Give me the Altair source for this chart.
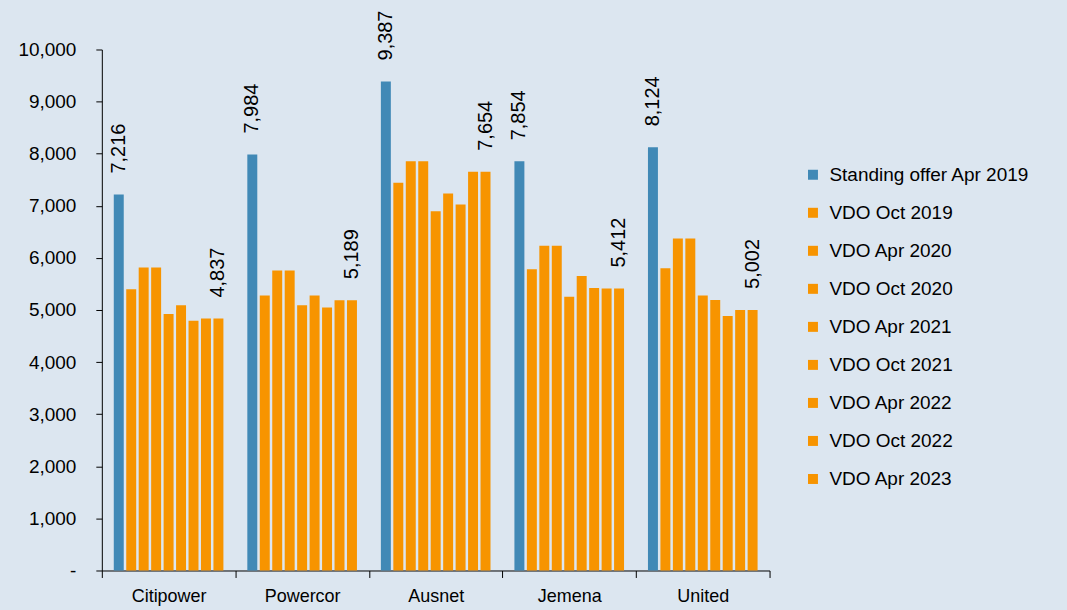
import altair as alt
import pandas as pd

groups = ["Citipower", "Powercor", "Ausnet", "Jemena", "United"]
series = ["Standing offer Apr 2019", "VDO Oct 2019", "VDO Apr 2020", "VDO Oct 2020",
          "VDO Apr 2021", "VDO Oct 2021", "VDO Apr 2022", "VDO Oct 2022", "VDO Apr 2023"]

standing_apr_2019 = [7216, 7984, 9387, 7854, 8124]
vdo_oct_2019 = [5400, 5280, 7440, 5780, 5800]
vdo_apr_2020 = [5818, 5760, 7854, 6232, 6373]
vdo_oct_2020 = [5818, 5760, 7854, 6232, 6373]
vdo_apr_2021 = [4923, 5090, 6897, 5255, 5280]
vdo_oct_2021 = [5090, 5280, 7235, 5651, 5190]
vdo_apr_2022 = [4795, 5050, 7025, 5421, 4885]
vdo_oct_2022 = [4837, 5189, 7654, 5412, 5002]
vdo_apr_2023 = [4837, 5189, 7654, 5412, 5002]

values = [standing_apr_2019, vdo_oct_2019, vdo_apr_2020, vdo_oct_2020, vdo_apr_2021,
          vdo_oct_2021, vdo_apr_2022, vdo_oct_2022, vdo_apr_2023]

labelled = {series[0], series[-1]}
rows = []
for s, vals in zip(series, values):
    for g, v in zip(groups, vals):
        rows.append({"group": g, "series": s, "value": v,
                     "label": f"{v:,}" if s in labelled else ""})
df = pd.DataFrame(rows)

BLUE = "#4189b6"
ORANGE = "#f79400"
BG = "#dce6f0"
FONT = "Liberation Sans"

base = alt.Chart(df).encode(
    x=alt.X("group:N", sort=groups, title=None,
            scale=alt.Scale(paddingInner=0, paddingOuter=0),
            axis=alt.Axis(labelAngle=0, tickBand="extent", tickSize=7, labelPadding=10,
                          labelFontSize=18, grid=False, domainColor="#000",
                          tickColor="#000", labelColor="#000", labelFont=FONT)),
    xOffset=alt.XOffset("series:N", sort=series,
                        scale=alt.Scale(domain=series, paddingInner=0.2, paddingOuter=0.96)),
    y=alt.Y("value:Q", title=None,
            scale=alt.Scale(domain=[0, 10000], nice=False),
            axis=alt.Axis(values=list(range(0, 10001, 1000)),
                          labelExpr="datum.value === 0 ? '-' : format(datum.value, ',')",
                          tickSize=6, labelPadding=20, labelFontSize=19, grid=False,
                          domainColor="#000", tickColor="#000", labelColor="#000",
                          labelFont=FONT)),
)

bars = base.mark_bar().encode(
    color=alt.Color("series:N", sort=series,
                    scale=alt.Scale(domain=series, range=[BLUE] + [ORANGE] * 8),
                    legend=alt.Legend(title=None, orient="none", legendX=703, legendY=116,
                                      symbolType="square", symbolSize=100,
                                      symbolStrokeWidth=0, labelFontSize=19,
                                      labelFont=FONT, labelColor="#000",
                                      rowPadding=18.1, labelOffset=7, padding=0,
                                      labelLimit=400))
)

labels = base.mark_text(angle=270, align="left", baseline="middle", dx=21,
                        fontSize=20, font=FONT, color="#000").encode(
    text="label:N"
)

chart = (bars + labels).properties(
    width=669, height=522,
    autosize=alt.AutoSizeParams(type="none"),
    padding={"left": 94, "top": 41, "right": 290, "bottom": 35},
    background=BG,
).configure_view(stroke=None)

chart.save("out.html", embed_options={"renderer": "svg", "actions": False})

# give the page margin the same background colour as the chart
with open("out.html", encoding="utf-8") as f:
    html = f.read()
html = html.replace("<head>", "<head>\n  <style>html, body { background: %s; }</style>" % BG, 1)
with open("out.html", "w", encoding="utf-8") as f:
    f.write(html)
